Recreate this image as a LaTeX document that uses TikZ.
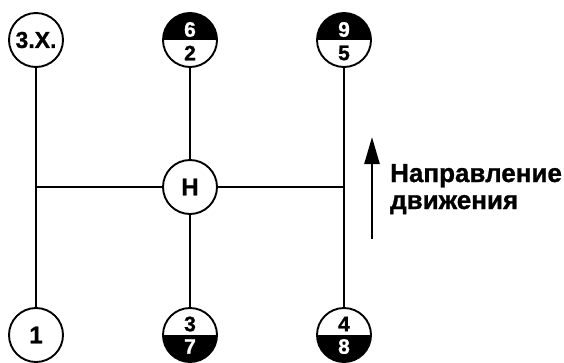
\documentclass[tikz,border=0pt]{standalone}
\usepackage{fontspec}
\setmainfont{Liberation Sans}[BoldFeatures={FakeBold=1}]
\usetikzlibrary{arrows.meta}
\begin{document}
\begin{tikzpicture}[x=1pt,y=-1pt,
  gear/.style={circle,draw,line width=1.9pt,minimum size=54pt,inner sep=0pt,font=\bfseries\fontsize{24}{24}\selectfont},
  tophalf/.style={gear,path picture={\fill[black] (path picture bounding box.north west) rectangle (path picture bounding box.east);}},
  bothalf/.style={gear,path picture={\fill[black] (path picture bounding box.west) rectangle (path picture bounding box.south east);}},
  digit/.style={inner sep=0pt,font=\bfseries\fontsize{21}{21}\selectfont},
  conn/.style={line width=1.5pt}]
\useasboundingbox (0,0) rectangle (564,362);
% nodes
\node[gear,font=\bfseries\fontsize{23}{23}\selectfont] (zx) at (36,40) {3.X.};
\node[tophalf] (n62) at (190,40) {};
\node[tophalf] (n95) at (344,40) {};
\node[gear] (H) at (190,187) {H};
\node[gear] (n1) at (36,335) {1};
\node[bothalf] (n37) at (190,335) {};
\node[bothalf] (n48) at (344,335) {};
% digits (yshift is in canvas units: positive = up)
\node[digit,white] (d6) at ([yshift=10.5pt]n62.center) {6};
\node[digit] (d2) at ([yshift=-13pt]n62.center) {2};
\node[digit,white] (d9) at ([yshift=10.5pt]n95.center) {9};
\node[digit] (d5) at ([yshift=-13pt]n95.center) {5};
\node[digit] (d3) at ([yshift=11pt]n37.center) {3};
\node[digit,white] (d7) at ([yshift=-11.5pt]n37.center) {7};
\node[digit] (d4) at ([yshift=11pt]n48.center) {4};
\node[digit,white] (d8) at ([yshift=-11.5pt]n48.center) {8};
% junctions
\coordinate (jl) at (36,187);
\coordinate (jr) at (344,187);
% connectors
\draw[conn] (zx) -- (n1);
\draw[conn] (n95) -- (n48);
\draw[conn] (n62) -- (H);
\draw[conn] (H) -- (n37);
\draw[conn] (jl) -- (H);
\draw[conn] (H) -- (jr);
% arrow
\coordinate (as) at (372,239);
\coordinate (ae) at (372,137);
\draw[line width=2.6pt,-{Triangle[width=15pt,length=27pt]}] (as) -- (ae);
\node[anchor=base west,align=left,inner sep=0pt,font=\bfseries\fontsize{26}{27}\selectfont] (txt) at (390,209) {Направление\\движения};
\end{tikzpicture}
\end{document}
